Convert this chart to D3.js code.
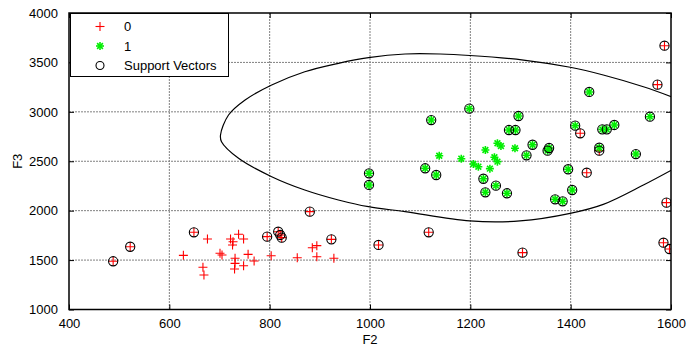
<!DOCTYPE html>
<html>
<head>
    <meta charset="utf-8">
    <script src="https://d3js.org/d3.v7.min.js"></script>
    <style>
        body { margin: 0; background: #fff; }
        text { font-family: "Liberation Sans", Arial, sans-serif; font-size: 13px; fill: #000; }
    </style>
</head>
<body>
    <svg width="699" height="348"></svg>

    <script>
        // class 0 points [F2, F3]
        var class0 = [
            [488, 1488], [522, 1635], [649, 1781], [795, 1737], [817, 1787], [821, 1754],
            [824, 1727], [880, 1990], [923, 1710], [1017, 1653], [1117, 1781], [1304, 1575],
            [1419, 2783], [1432, 2384], [1457, 2607], [1573, 3275], [1587, 3669], [1591, 2081],
            [1585, 1676], [1597, 1612],
            [676, 1713], [628, 1548], [667, 1427], [669, 1349], [722, 1713], [726, 1653],
            [738, 1761], [748, 1713], [701, 1569], [705, 1551], [731, 1518], [731, 1467],
            [730, 1410], [748, 1443], [757, 1558], [769, 1491], [727, 1686], [803, 1544],
            [855, 1524], [894, 1534], [928, 1518], [885, 1625], [894, 1646]
        ];

        // class 1 points [F2, F3]
        var class1 = [
            [998, 2378], [998, 2260], [1122, 2917], [1198, 3032], [1296, 2958], [1437, 3201],
            [1277, 2816], [1290, 2816], [1324, 2667], [1312, 2560], [1357, 2634], [1354, 2607],
            [1409, 2860], [1463, 2823], [1472, 2823], [1487, 2867], [1558, 2951], [1457, 2637],
            [1530, 2573], [1110, 2429], [1132, 2361], [1226, 2323], [1230, 2186], [1251, 2253],
            [1273, 2176], [1395, 2419], [1403, 2209], [1369, 2115], [1384, 2095],
            [1138, 2556], [1182, 2526], [1206, 2472], [1216, 2445], [1230, 2614], [1239, 2425],
            [1248, 2540], [1254, 2682], [1261, 2654], [1254, 2496], [1289, 2631]
        ];

        // support vectors (circled points)
        var supportVectors = class0.slice(0, 20).concat(class1.slice(0, 29));

        // decision boundary, top branch right->left then bottom branch left->right
        var boundaryF2 = [1601, 1545, 1465, 1399, 1306, 1199, 1140, 1070, 997, 937, 870, 804, 751, 718, 702,
                          704, 738, 804, 870, 937, 997, 1070, 1199, 1299, 1399, 1465, 1545, 1601];
        var boundaryF3 = [3153, 3254, 3373, 3451, 3524, 3570, 3585, 3585, 3548, 3491, 3406, 3272, 3120, 2968, 2766,
                          2698, 2530, 2344, 2209, 2108, 2040, 1990, 1896, 1896, 1973, 2064, 2260, 2411];

        var xTicks = [400, 600, 800, 1000, 1200, 1400, 1600];
        var yTicks = [1000, 1500, 2000, 2500, 3000, 3500, 4000];

        var svg = d3.select("svg");
        var pLeft = 69, pRight = 671, pTop = 13, pBottom = 309.5;

        var x = d3.scaleLinear().domain([400, 1600]).range([pLeft, pRight]);
        var y = d3.scaleLinear().domain([1000, 4000]).range([pBottom, pTop]);

        svg.append("clipPath").attr("id", "plot")
            .append("rect")
            .attr("x", pLeft).attr("y", pTop)
            .attr("width", pRight - pLeft).attr("height", pBottom - pTop);

        // grid
        svg.append("g").selectAll("line")
            .data(xTicks.slice(1, -1))
            .enter().append("line")
            .attr("x1", function(d) { return x(d); })
            .attr("x2", function(d) { return x(d); })
            .attr("y1", pTop).attr("y2", pBottom)
            .attr("stroke", "#808080").attr("stroke-dasharray", "2,1");

        svg.append("g").selectAll("line")
            .data(yTicks.slice(1, -1))
            .enter().append("line")
            .attr("y1", function(d) { return y(d); })
            .attr("y2", function(d) { return y(d); })
            .attr("x1", pLeft).attr("x2", pRight)
            .attr("stroke", "#808080").attr("stroke-dasharray", "2,1");

        // axes with inward ticks
        var fmt = d3.format("d");
        var xAxis = svg.append("g")
            .attr("transform", "translate(0," + pBottom + ")")
            .call(d3.axisBottom(x).tickValues(xTicks).tickFormat(fmt).tickSizeInner(-5).tickSizeOuter(0).tickPadding(9));
        var xAxisTop = svg.append("g")
            .attr("transform", "translate(0," + pTop + ")")
            .call(d3.axisTop(x).tickValues(xTicks).tickSizeInner(-5).tickSizeOuter(0).tickFormat(""));
        var yAxis = svg.append("g")
            .attr("transform", "translate(" + pLeft + ",0)")
            .call(d3.axisLeft(y).tickValues(yTicks).tickFormat(fmt).tickSizeInner(-5).tickSizeOuter(0).tickPadding(11));
        var yAxisRight = svg.append("g")
            .attr("transform", "translate(" + pRight + ",0)")
            .call(d3.axisRight(y).tickValues(yTicks).tickSizeInner(-5).tickSizeOuter(0).tickFormat(""));

        [xAxis, xAxisTop, yAxis, yAxisRight].forEach(function(a) {
            a.select(".domain").remove();
            a.selectAll("line").attr("stroke", "#000");
            a.selectAll("text").attr("font-size", "13px")
                .attr("font-family", "'Liberation Sans', Arial, sans-serif");
        });

        var plot = svg.append("g").attr("clip-path", "url(#plot)");

        // markers
        function plus(g, s) {
            g.append("line").attr("x1", -s).attr("x2", s).attr("y1", 0).attr("y2", 0);
            g.append("line").attr("x1", 0).attr("x2", 0).attr("y1", -s).attr("y2", s);
        }
        function star(g, s) {
            plus(g, s);
            var d = s * 0.72;
            g.append("line").attr("x1", -d).attr("x2", d).attr("y1", -d).attr("y2", d);
            g.append("line").attr("x1", -d).attr("x2", d).attr("y1", d).attr("y2", -d);
        }

        plot.selectAll(".c0")
            .data(class0)
            .enter().append("g")
            .attr("class", "c0")
            .attr("transform", function(d) { return "translate(" + x(d[0]) + "," + y(d[1]) + ")"; })
            .attr("stroke", "#ff0000").attr("stroke-width", 1.1)
            .each(function() { plus(d3.select(this), 4.5); });

        plot.selectAll(".c1")
            .data(class1)
            .enter().append("g")
            .attr("class", "c1")
            .attr("transform", function(d) { return "translate(" + x(d[0]) + "," + y(d[1]) + ")"; })
            .attr("stroke", "#00ee00").attr("stroke-width", 1.6)
            .each(function() { star(d3.select(this), 4); });

        plot.selectAll(".sv")
            .data(supportVectors)
            .enter().append("circle")
            .attr("class", "sv")
            .attr("cx", function(d) { return x(d[0]); })
            .attr("cy", function(d) { return y(d[1]); })
            .attr("r", 4.6)
            .attr("fill", "none").attr("stroke", "#000").attr("stroke-width", 1.1);

        // boundary
        var boundary = boundaryF2.map(function(v, i) { return [v, boundaryF3[i]]; });
        plot.append("path")
            .datum(boundary)
            .attr("d", d3.line()
                .x(function(d) { return x(d[0]); })
                .y(function(d) { return y(d[1]); })
                .curve(d3.curveCatmullRom))
            .attr("fill", "none").attr("stroke", "#000").attr("stroke-width", 1.2);

        // box
        svg.append("rect")
            .attr("x", pLeft).attr("y", pTop)
            .attr("width", pRight - pLeft).attr("height", pBottom - pTop)
            .attr("fill", "none").attr("stroke", "#000").attr("stroke-width", 1.5);

        // labels
        svg.append("text").attr("x", (pLeft + pRight) / 2).attr("y", 344)
            .attr("text-anchor", "middle").text("F2");
        svg.append("text")
            .attr("transform", "translate(22," + (pTop + pBottom) / 2 + ") rotate(-90)")
            .attr("text-anchor", "middle").text("F3");

        // legend
        var legend = svg.append("g");
        legend.append("rect")
            .attr("x", 70.5).attr("y", 13.5).attr("width", 158).attr("height", 63)
            .attr("fill", "#fff").attr("stroke", "#000").attr("stroke-width", 1);

        var entries = ["0", "1", "Support Vectors"];
        entries.forEach(function(label, i) {
            var cy = 26.5 + i * 19.5;
            var m = legend.append("g").attr("transform", "translate(100," + cy + ")");
            if (i === 0) {
                m.attr("stroke", "#ff0000").attr("stroke-width", 1.1);
                plus(m, 4.5);
            } else if (i === 1) {
                m.attr("stroke", "#00ee00").attr("stroke-width", 1.6);
                star(m, 4);
            } else {
                m.append("circle").attr("r", 4).attr("fill", "none")
                    .attr("stroke", "#000").attr("stroke-width", 1.1);
            }
            legend.append("text").attr("x", 124).attr("y", cy + 4.5).text(label);
        });
    </script>
</body>
</html>
